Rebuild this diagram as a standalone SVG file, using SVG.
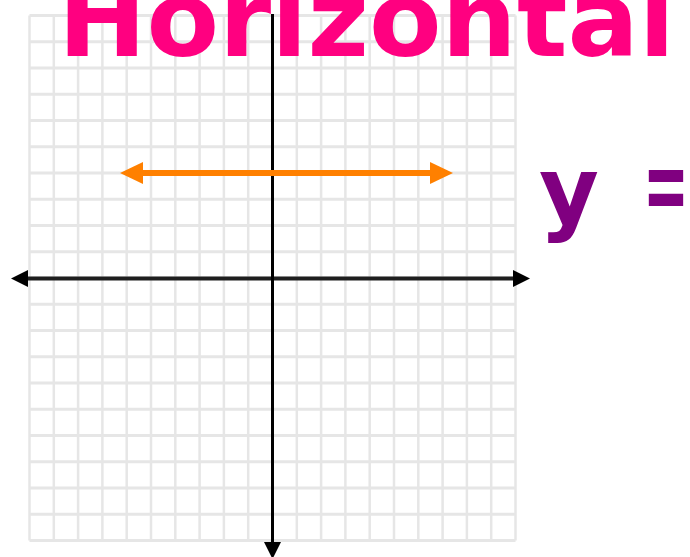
<svg xmlns="http://www.w3.org/2000/svg" width="690" height="557" viewBox="0 0 690 557">
  <style>
    .grid { stroke: #e6e6e6; fill: none; }
    .gv { stroke-width: 2.5; }
    .gh { stroke-width: 3; }
    .axis-x { stroke: #1e1e1e; stroke-width: 4; fill: none; }
    .axis-y { stroke: #000000; stroke-width: 3; fill: none; }
    .hline { stroke: #ff8000; stroke-width: 6; fill: none; }
    .title { font-family: "DejaVu Sans", "Liberation Sans", sans-serif; font-weight: bold; fill: #ff0080; }
    .eq { font-family: "DejaVu Sans", "Liberation Sans", sans-serif; font-weight: bold; fill: #800080; }
  </style>
  <defs>
    <marker id="arrowBlack" markerUnits="userSpaceOnUse" markerWidth="17" markerHeight="17" viewBox="0 -8.5 17 17" refX="0" refY="0" orient="auto-start-reverse">
      <path d="M0,-8.5 L17,0 L0,8.5 Z" fill="#000000"/>
    </marker>
    <marker id="arrowOrange" markerUnits="userSpaceOnUse" markerWidth="23" markerHeight="22" viewBox="0 -11 23 22" refX="0" refY="0" orient="auto-start-reverse">
      <path d="M0,-11 L23,0 L0,11 Z" fill="#ff8000"/>
    </marker>
  </defs>

  <g id="grid">
    <path class="grid gv" d="M29.5,15.5V540.5 M53.8,15.5V540.5 M78.1,15.5V540.5 M102.4,15.5V540.5 M126.7,15.5V540.5 M151,15.5V540.5 M175.3,15.5V540.5 M199.6,15.5V540.5 M223.9,15.5V540.5 M248.2,15.5V540.5 M272.5,15.5V540.5 M296.8,15.5V540.5 M321.1,15.5V540.5 M345.4,15.5V540.5 M369.7,15.5V540.5 M394,15.5V540.5 M418.3,15.5V540.5 M442.6,15.5V540.5 M466.9,15.5V540.5 M491.2,15.5V540.5 M515.5,15.5V540.5"/>
    <path class="grid gh" d="M29.5,15.5H515.5 M29.5,41.75H515.5 M29.5,68H515.5 M29.5,94.25H515.5 M29.5,120.5H515.5 M29.5,146.75H515.5 M29.5,173H515.5 M29.5,199.25H515.5 M29.5,225.5H515.5 M29.5,251.75H515.5 M29.5,278H515.5 M29.5,304.25H515.5 M29.5,330.5H515.5 M29.5,356.75H515.5 M29.5,383H515.5 M29.5,409.25H515.5 M29.5,435.5H515.5 M29.5,461.75H515.5 M29.5,488H515.5 M29.5,514.25H515.5 M29.5,540.5H515.5"/>
  </g>

  <g id="connectors">
    <line id="x-axis" class="axis-x" x1="28" y1="278.5" x2="513" y2="278.5" marker-start="url(#arrowBlack)" marker-end="url(#arrowBlack)"/>
    <line id="y-axis" class="axis-y" x1="272.5" y1="14" x2="272.5" y2="542" marker-end="url(#arrowBlack)"/>
    <line id="horizontal-line" class="hline" x1="143" y1="173" x2="430" y2="173" marker-start="url(#arrowOrange)" marker-end="url(#arrowOrange)"/>
  </g>

  <g id="title">
    <text class="title" x="58" y="56" font-size="106" textLength="617" lengthAdjust="spacingAndGlyphs">Horizontal</text>
  </g>

  <g id="equation">
    <text class="eq" x="539" y="223" font-size="92">y <tspan x="643" y="221" font-size="106" textLength="46" lengthAdjust="spacingAndGlyphs">=</tspan></text>
  </g>
</svg>
